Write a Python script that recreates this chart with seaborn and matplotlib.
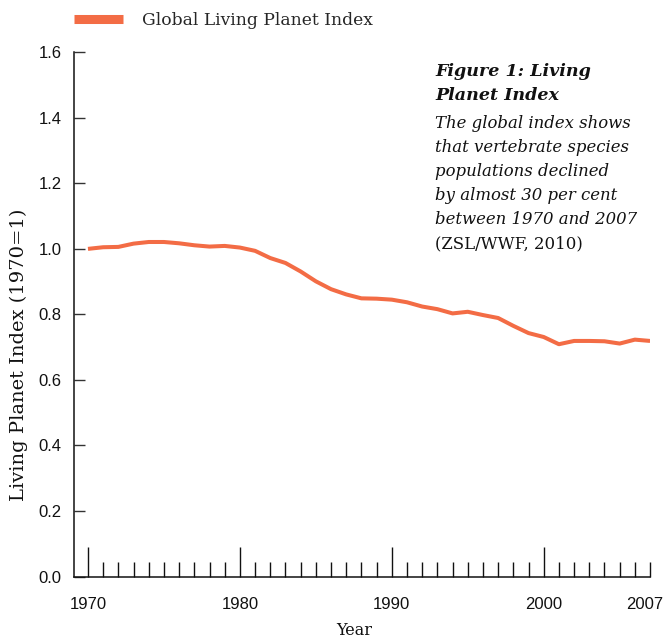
import pandas as pd
import matplotlib
matplotlib.use('Agg')
import matplotlib.pyplot as plt
from matplotlib.lines import Line2D
from matplotlib.transforms import ScaledTranslation
import seaborn as sns

# Living Planet Index (1970 = 1)
years = list(range(1970, 2008))
lpi = [1.000, 1.005, 1.006, 1.016, 1.021, 1.021, 1.017, 1.011, 1.007, 1.009,
       1.004, 0.994, 0.972, 0.957, 0.931, 0.901, 0.877, 0.861, 0.849, 0.848,
       0.845, 0.837, 0.824, 0.816, 0.803, 0.808, 0.798, 0.789, 0.765, 0.743,
       0.731, 0.709, 0.719, 0.719, 0.718, 0.711, 0.723, 0.719]

major_years = [1970, 1980, 1990, 2000, 2007]
y_ticks = [0.0, 0.2, 0.4, 0.6, 0.8, 1.0, 1.2, 1.4, 1.6]
series_name = 'Global Living Planet Index'

caption_bold = ['Figure 1: Living', 'Planet Index']
caption_italic = ['The global index shows', 'that vertebrate species',
                  'populations declined', 'by almost 30 per cent',
                  'between 1970 and 2007']
caption_source = '(ZSL/WWF, 2010)'

df = pd.DataFrame({'year': years, 'lpi': lpi})

orange = '#F36C45'
serif = ['DejaVu Serif']

sns.set_theme(style='ticks')
plt.rcParams['font.family'] = ['Liberation Sans', 'DejaVu Sans']

fig = plt.figure(figsize=(6.64, 6.4), dpi=100)
ax = fig.add_axes([0.1119, 0.0992, 0.8671, 0.8191])

sns.lineplot(data=df, x='year', y='lpi', color=orange, lw=2.9, ax=ax,
             legend=False, solid_capstyle='butt')

ax.set_xlim(1969.1, 2007)
ax.set_ylim(0, 1.6)

# x ticks: long ones each decade, short ones each year, all pointing up
ax.set_xticks(major_years)
ax.set_xticklabels([str(y) for y in major_years])
ax.set_xticks([y for y in years if y not in major_years], minor=True)
ax.tick_params(axis='x', which='major', direction='in', length=21.6, width=1.0,
               pad=14.4, labelsize=12, color='#111111', labelcolor='#111111')
ax.tick_params(axis='x', which='minor', direction='in', length=10.8, width=1.0,
               color='#111111')
last = ax.xaxis.get_major_ticks()[-1]
last.tick1line.set_markersize(10.8)
# pull the 2007 label a little left so it stays inside the figure
last.label1.set_transform(last.label1.get_transform()
                          + ScaledTranslation(-5 / 100, 0, fig.dpi_scale_trans))

ax.set_yticks(y_ticks)
ax.set_yticklabels([f'{v:.1f}' for v in y_ticks])
ax.tick_params(axis='y', direction='in', length=7.7, width=1.0, pad=9,
               labelsize=12, color='#333333', labelcolor='#111111')

sns.despine(ax=ax)
for s in ['left', 'bottom']:
    ax.spines[s].set_linewidth(1.1)
    ax.spines[s].set_color('#111111')

ax.set_xlabel('Year', fontfamily=serif, fontsize=11.5, color='#111111')
ax.xaxis.set_label_coords(0.486, -0.086)
ax.set_ylabel('Living Planet Index (1970=1)', fontfamily=serif, fontsize=14,
              color='#111111')
ax.yaxis.set_label_coords(-0.080, 0.4226)

handle = Line2D([], [], color=orange, lw=6.5, solid_capstyle='butt')
ax.legend(handles=[handle], labels=[series_name], loc='center left',
          bbox_to_anchor=(0, 1.061), frameon=False, borderpad=0,
          borderaxespad=0, handlelength=2.85, handletextpad=1.1,
          prop={'family': serif, 'size': 12.3})

# caption block on the right
cx = 435 / 664
baselines = [76, 100, 128, 152, 176, 200, 224, 248]
lines = ([(t, 'bold', 'italic', 12.6) for t in caption_bold]
         + [(t, 'normal', 'italic', 11.9) for t in caption_italic]
         + [(caption_source, 'normal', 'normal', 11.9)])
for (txt, weight, style, size), yb in zip(lines, baselines):
    fig.text(cx, 1 - yb / 640, txt, fontfamily=serif, fontsize=size,
             fontweight=weight, fontstyle=style, va='baseline', ha='left',
             color='#111111')

fig.savefig('out.png', dpi=100)
